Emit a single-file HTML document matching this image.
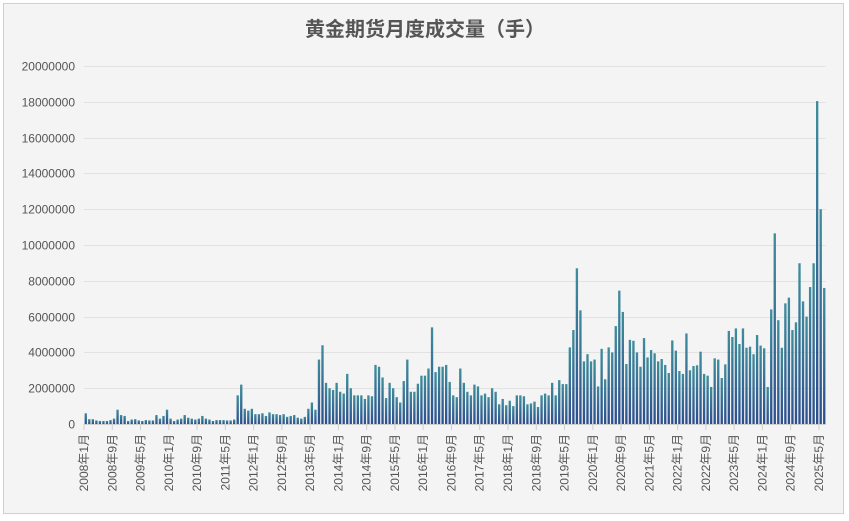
<!DOCTYPE html>
<html><head><meta charset="utf-8"><style>
body{margin:0;background:#fff;}
#wrap{width:849px;height:521px;position:relative;overflow:hidden;}
text{font-family:"Liberation Sans","Noto Sans CJK SC",sans-serif;}
</style></head><body>
<div id="wrap">
<svg id="chart" width="849" height="521">
<defs>
<linearGradient id="bg" x1="0" y1="0" x2="0" y2="1">
<stop offset="0" stop-color="#3f8d9c"/><stop offset="1" stop-color="#2d4e8e"/>
</linearGradient>
</defs>
<rect x="3.5" y="3.5" width="840" height="510" fill="#f4f4f4" stroke="#d0d0d0"/>
<text x="425" y="36" text-anchor="middle" font-size="20" font-weight="bold" fill="#555">黄金期货月度成交量（手）</text>
<g id="grid"></g><g id="bars"></g><g id="xaxis"></g>
</svg></div>
<script>
const years=[2008,2009,2010,2011,2012,2013,2014,2015,2016,2017,2018,2019,2020,2021,2022,2023,2024,2025];
const valuesM=[
0.6,0.27,0.27,0.2,0.17,0.17,0.17,0.22,0.3,0.8,0.5,0.45,
0.17,0.25,0.27,0.2,0.17,0.22,0.2,0.2,0.5,0.3,0.45,0.8,
0.3,0.17,0.25,0.3,0.5,0.35,0.3,0.25,0.3,0.45,0.3,0.25,
0.17,0.22,0.22,0.22,0.2,0.2,0.25,1.6,2.2,0.85,0.75,0.85,
0.55,0.55,0.6,0.45,0.65,0.55,0.55,0.5,0.55,0.4,0.45,0.5,
0.35,0.3,0.4,0.85,1.2,0.8,3.6,4.4,2.3,2.0,1.9,2.3,
1.8,1.7,2.8,2.0,1.6,1.6,1.6,1.4,1.6,1.55,3.3,3.2,
2.6,1.45,2.3,2.0,1.5,1.2,2.4,3.6,1.8,1.8,2.25,2.7,
2.7,3.1,5.4,2.9,3.2,3.2,3.3,2.35,1.6,1.5,3.1,2.3,
1.8,1.6,2.2,2.1,1.6,1.7,1.5,2.0,1.8,1.1,1.4,1.05,
1.3,1.0,1.6,1.6,1.55,1.1,1.15,1.25,0.95,1.6,1.7,1.6,
2.3,1.6,2.45,2.23,2.23,4.28,5.25,8.7,6.35,3.5,3.9,3.5,
3.6,2.1,4.2,2.5,4.28,4.0,5.47,7.45,6.26,3.35,4.7,4.65,
4.0,3.2,4.8,3.72,4.13,3.95,3.5,3.63,3.3,2.85,4.67,4.1,
2.96,2.8,5.06,3.0,3.24,3.28,4.04,2.8,2.7,2.07,3.67,3.6,
2.57,3.33,5.2,4.86,5.34,4.47,5.34,4.26,4.32,3.9,4.97,4.38,
4.23,2.07,6.4,10.65,5.8,4.26,6.74,7.06,5.25,5.68,8.98,6.85,
6.0,7.65,8.98,18.04,12.0,7.6];
const yTicks=[0,2000000,4000000,6000000,8000000,10000000,12000000,14000000,16000000,18000000,20000000];
const NS='http://www.w3.org/2000/svg';
const x0=84,x1=826,y0=424,yTop=66,yMax=20000000;
const n=valuesM.length,bw=(x1-x0)/n;
const ys=v=>y0-(v/yMax)*(y0-yTop);
const xs=i=>x0+i*bw;
function mk(t,a,p){const e=document.createElementNS(NS,t);for(const k in a)e.setAttribute(k,a[k]);p.appendChild(e);return e;}
const grid=document.getElementById('grid');
yTicks.forEach(t=>{
 const y=Math.round(ys(t))+0.5;
 if(t>0){const l=mk('line',{x1:x0,x2:x1,y1:y,y2:y,stroke:'#e2e2e2','stroke-width':1},grid);
 
 }
 const tx=mk('text',{x:75,y:y+4,'text-anchor':'end','font-size':12,fill:'#555'},grid);
 tx.textContent=String(t);
 
 
});
const bars=document.getElementById('bars');
valuesM.forEach((v,i)=>{
 const y=ys(v*1e6);
 const r=mk('rect',{x:xs(i)+0.6,y:y,width:bw-1.2,height:y0-y,fill:'url(#bg)'},bars);
 
 
});
const xa=document.getElementById('xaxis');
const ax=mk('line',{x1:x0,x2:x1,y1:y0+0.5,y2:y0+0.5,stroke:'#d0d0d0'},xa);


for(let i=0;i<n;i+=8){
 const x=xs(i);
 const tk=mk('line',{x1:x,x2:x,y1:y0,y2:y0+6,stroke:'#d0d0d0'},xa);
 
 
 const lab=years[Math.floor(i/12)]+'年'+(i%12+1)+'月';
 const t=mk('text',{x:0,y:0,'text-anchor':'end','font-size':12,fill:'#555',transform:'translate('+(x+4)+','+(y0+10)+') rotate(-90)'},xa);
 t.textContent=lab;
 
 
}
</script>
</body></html>
